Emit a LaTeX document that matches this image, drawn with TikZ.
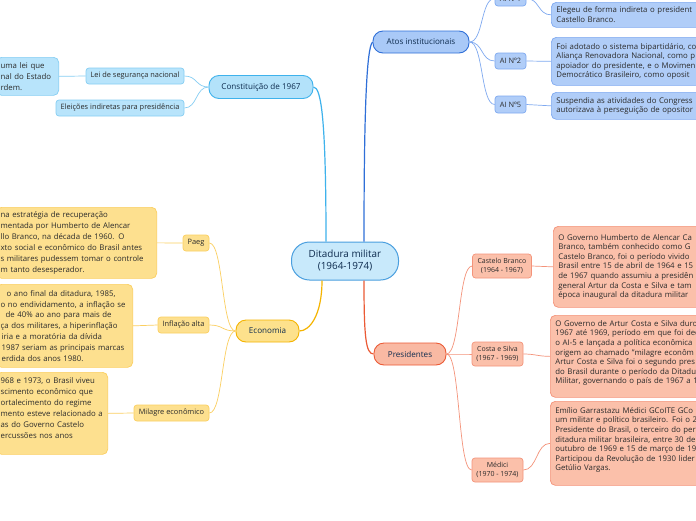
\documentclass[tikz,border=0pt]{standalone}
\usepackage{fontspec}
\setmainfont{Open Sans}
\definecolor{cenF}{HTML}{C8E9FB}\definecolor{cenD}{HTML}{4A9FDF}
\definecolor{conF}{HTML}{B3E2FA}\definecolor{conD}{HTML}{3EB2EC}
\definecolor{conSF}{HTML}{B8E4FB}\definecolor{conSD}{HTML}{86CEF3}
\definecolor{atoF}{HTML}{A9C9F7}\definecolor{atoD}{HTML}{2F6FD8}
\definecolor{atoSF}{HTML}{B0CDF8}\definecolor{atoSD}{HTML}{7FA9F0}
\definecolor{ecoF}{HTML}{FDE18C}\definecolor{ecoD}{HTML}{F5B400}
\definecolor{ecoSF}{HTML}{FDE08F}\definecolor{ecoSD}{HTML}{FBCF60}
\definecolor{preF}{HTML}{F9B9A3}\definecolor{preD}{HTML}{EB5A35}
\definecolor{preSF}{HTML}{FBC0AA}\definecolor{preSD}{HTML}{F4937A}
\definecolor{txtM}{HTML}{0D2B4E}\definecolor{txtS}{HTML}{2B2B2B}
\usetikzlibrary{positioning}
\begin{document}
\begin{tikzpicture}[x=1pt,y=-1pt,
  topnode/.style={draw,line width=0.9pt,rounded corners=10pt,inner sep=0pt,
    text=txtM,font=\fontsize{8.1}{9}\selectfont},
  subnode/.style={draw,line width=0.7pt,rounded corners=3pt,inner sep=0pt,
    text=txtS,font=\fontsize{7.4}{8.6}\selectfont,align=center},
  rbox/.style={draw,line width=0.7pt,rounded corners=5pt,inner xsep=5pt,inner ysep=3pt,
    text=txtS,font=\fontsize{7.8}{9.6}\selectfont,align=left,text width=200pt,anchor=north west},
  lbox/.style={draw,line width=0.7pt,rounded corners=5pt,inner xsep=4pt,inner ysep=3pt,
    text=txtS,font=\fontsize{7.8}{11}\selectfont,align=left,anchor=north east},
  mainlink/.style={line width=1.2pt},
  sublink/.style={line width=0.7pt}]
\useasboundingbox (0,0) rectangle (696,520);
\fill[white] (0,0) rectangle (696,520);

% ---------- central ----------
\node[draw=cenD,fill=cenF,line width=1pt,rounded corners=18pt,minimum width=107pt,minimum height=38pt,
  inner sep=0pt,align=center,text=txtM,font=\fontsize{9.9}{12}\selectfont] (c) at (345,261)
  {Ditadura militar\\ (1964-1974)};

% ---------- Constituicao ----------
\node[topnode,draw=conD,fill=conF,minimum width=104pt,minimum height=23pt] (con) at (261,87) {Constituição de 1967};
\node[subnode,draw=conSD,fill=conSF,minimum width=98pt,minimum height=16pt] (lei) at (135,76) {Lei de segurança nacional};
\node[subnode,draw=conSD,fill=conSF,minimum width=128pt,minimum height=16pt] (ele) at (120,108) {Eleições indiretas para presidência};
\node[lbox,draw=conSD,fill=conSF,text width=54pt,minimum height=38pt] (conb) at (59,57)
  {\mbox{uma lei que}\\ \mbox{nal do Estado}\\ \mbox{rdem.}};

% ---------- Atos ----------
\node[topnode,draw=atoD,fill=atoF,minimum width=96pt,minimum height=22pt] (atos) at (421,42) {Atos institucionais};
\node[subnode,draw=atoSD,fill=atoSF,minimum width=31pt,minimum height=15pt] (ai1) at (510.5,-1.5) {AI Nº1};
\node[subnode,draw=atoSD,fill=atoSF,minimum width=31pt,minimum height=16pt] (ai2) at (510.5,61) {AI Nº2};
\node[subnode,draw=atoSD,fill=atoSF,minimum width=31pt,minimum height=17pt] (ai5) at (510.5,104.5) {AI Nº5};
\node[rbox,draw=atoSD,fill=atoSF,minimum height=25pt] (ai1b) at (551,2)
  {Elegeu de forma indireta o president\\ Castello Branco.};
\node[rbox,draw=atoSD,fill=atoSF,minimum height=48pt] (ai2b) at (551,37)
  {Foi adotado o sistema bipartidário, co\\ Aliança Renovadora Nacional, como p\\ apoiador do presidente, e o Movimen\\ Democrático Brasileiro, como oposit};
\node[rbox,draw=atoSD,fill=atoSF,minimum height=27pt] (ai5b) at (551,92)
  {Suspendia as atividades do Congress\\ autorizava à perseguição de opositor};

% ---------- Economia ----------
\node[topnode,draw=ecoD,fill=ecoF,minimum width=63pt,minimum height=22pt] (eco) at (267.5,331) {Economia};
\node[subnode,draw=ecoSD,fill=ecoSF,minimum width=26pt,minimum height=16pt] (paeg) at (196,243) {Paeg};
\node[subnode,draw=ecoSD,fill=ecoSF,minimum width=51pt,minimum height=16pt] (infl) at (183.5,325) {Inflação alta};
\node[subnode,draw=ecoSD,fill=ecoSF,minimum width=75pt,minimum height=16pt] (mil) at (171.5,413) {Milagre econômico};
\node[lbox,draw=ecoSD,fill=ecoSF,text width=152pt,minimum height=71pt] (paegb) at (157,207)
  {\mbox{na estratégia de recuperação}\\ \mbox{mentada por Humberto de Alencar}\\ \mbox{llo Branco, na década de 1960. O}\\
   \mbox{xto social e econômico do Brasil antes}\\ \mbox{s militares pudessem tomar o controle}\\ \mbox{m tanto desesperador.}};
\node[lbox,draw=ecoSD,fill=ecoSF,text width=128pt,minimum height=83pt,font=\fontsize{7.8}{10.8}\selectfont] (inflb) at (133,284)
  {\mbox{\hspace{6pt}o ano final da ditadura, 1985,}\\ \mbox{o no endividamento, a inflação se}\\ \mbox{\hspace{5pt}de 40\% ao ano para mais de}\\
   \mbox{ça dos militares, a hiperinflação}\\ \mbox{\hspace{1pt}iria e a moratória da dívida}\\ \mbox{\hspace{1pt}1987 seriam as principais marcas}\\ \mbox{\hspace{1pt}erdida dos anos 1980.}};
\node[lbox,draw=ecoSD,fill=ecoSF,text width=103pt,minimum height=82pt] (milb) at (108,372)
  {\mbox{968 e 1973, o Brasil viveu}\\ \mbox{scimento econômico que}\\ \mbox{ortalecimento do regime}\\
   \mbox{mento esteve relacionado a}\\ \mbox{as do Governo Castelo}\\ \mbox{ercussões nos anos}\\[-1pt] \mbox{}};

% ---------- Presidentes ----------
\node[topnode,draw=preD,fill=preF,minimum width=72pt,minimum height=22pt] (pres) at (410,354) {Presidentes};
\node[subnode,draw=preSD,fill=preSF,minimum width=59pt,minimum height=24pt,font=\fontsize{7}{8.8}\selectfont] (cb) at (502,266) {Castelo Branco\\ (1964 - 1967)};
\node[subnode,draw=preSD,fill=preSF,minimum width=51pt,minimum height=24pt,font=\fontsize{7}{8.8}\selectfont] (cs) at (497.5,354) {Costa e Silva\\ (1967 - 1969)};
\node[subnode,draw=preSD,fill=preSF,minimum width=51pt,minimum height=24pt,font=\fontsize{7}{8.8}\selectfont] (med) at (497.5,470) {Médici\\ (1970 - 1974)};
\node[rbox,draw=preSD,fill=preSF,minimum height=81pt] (cbb) at (553,226)
  {O Governo Humberto de Alencar Ca\\ Branco, também conhecido como G\\ Castelo Branco, foi o período vivido\\
   Brasil entre 15 de abril de 1964 e 15\\ de 1967 quando assumiu a presidên\\ general Artur da Costa e Silva e tam\\ época inaugural da ditadura militar};
\node[rbox,draw=preSD,fill=preSF,minimum height=82pt] (csb) at (550,315)
  {O Governo de Artur Costa e Silva duro\\ 1967 até 1969, período em que foi dec\\ o AI-5 e lançada a política econômica\\
   origem ao chamado "milagre econôm\\ Artur Costa e Silva foi o segundo pres\\ do Brasil durante o período da Ditadu\\ Militar, governando o país de 1967 a 1\\[-1pt] \mbox{}};
\node[rbox,draw=preSD,fill=preSF,minimum height=84pt] (medb) at (550,401)
  {Emílio Garrastazu Médici GCoITE GCo\\ um militar e político brasileiro. Foi o 2\\ Presidente do Brasil, o terceiro do per\\
   ditadura militar brasileira, entre 30 de\\ outubro de 1969 e 15 de março de 197\\ Participou da Revolução de 1930 lider\\ Getúlio Vargas.\\[-1pt] \mbox{}};

% ---------- main connectors ----------
\draw[mainlink,conD] ([xshift=-19pt]c.north) .. controls +(0,-120) and +(8,0) .. (con.east);
\draw[mainlink,atoD] ([xshift=19pt]c.north) .. controls +(0,-130) and +(-6,6) .. (atos.west);
\draw[mainlink,ecoD] ([xshift=-23pt]c.south) .. controls +(0,35) and +(10,0) .. (eco.east);
\draw[mainlink,preD] ([xshift=19pt]c.south) .. controls +(0,55) and +(-8,0) .. (pres.west);

% ---------- sub connectors ----------
\draw[sublink,conSD] (con.west) .. controls +(-13,0) and +(13,0) .. (lei.east);
\draw[sublink,conSD] (con.west) .. controls +(-13,0) and +(13,0) .. (ele.east);
\draw[sublink,conSD] (lei.west) -- (conb.east);

\draw[sublink,atoSD] (atos.east) .. controls +(14,0) and +(-14,0) .. (ai1.west);
\draw[sublink,atoSD] (atos.east) .. controls +(14,0) and +(-14,0) .. (ai2.west);
\draw[sublink,atoSD] (atos.east) .. controls +(14,0) and +(-14,0) .. (ai5.west);
\draw[sublink,atoSD] (ai1.east) .. controls +(13,0) and +(-13,0) .. (ai1b.west);
\draw[sublink,atoSD] (ai2.east) .. controls +(13,0) and +(-13,0) .. (ai2b.west);
\draw[sublink,atoSD] (ai5.east) .. controls +(13,0) and +(-13,0) .. (ai5b.west);

\draw[sublink,ecoSD] (eco.west) .. controls +(-14,0) and +(14,0) .. (paeg.east);
\draw[sublink,ecoSD] (eco.west) .. controls +(-14,0) and +(14,0) .. (infl.east);
\draw[sublink,ecoSD] (eco.west) .. controls +(-14,0) and +(14,0) .. (mil.east);
\draw[sublink,ecoSD] (paeg.west) -- (paegb.east);
\draw[sublink,ecoSD] (infl.west) -- (inflb.east);
\draw[sublink,ecoSD] (mil.west) -- (milb.east);

\draw[sublink,preSD] (pres.east) .. controls +(14,0) and +(-14,0) .. (cb.west);
\draw[sublink,preSD] (pres.east) .. controls +(14,0) and +(-14,0) .. (cs.west);
\draw[sublink,preSD] (pres.east) .. controls +(14,0) and +(-14,0) .. (med.west);
\draw[sublink,preSD] (cb.east) .. controls +(10,0) and +(-10,0) .. (cbb.west);
\draw[sublink,preSD] (cs.east) .. controls +(12,0) and +(-12,0) .. (csb.west);
\draw[sublink,preSD] (med.east) .. controls +(14,0) and +(-14,0) .. (medb.west);
\end{tikzpicture}
\end{document}
